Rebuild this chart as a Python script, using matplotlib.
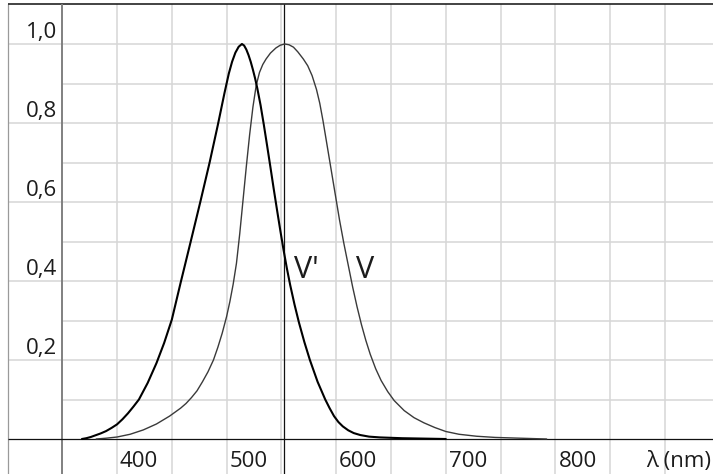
import matplotlib
matplotlib.use("Agg")
import matplotlib.pyplot as plt

# ---- data ----
# V' (scotopic, thick curve)
vs_wl = [368, 372, 376, 380, 385, 390, 395, 400, 405, 410, 415, 420, 428, 436,
         443, 450, 458, 467, 476, 484.5, 492, 498, 502, 505, 508, 511, 514,
         516, 518, 520, 522, 524, 526, 528, 531, 534, 537, 540, 543, 546, 549,
         552, 555, 558, 562, 566, 571, 576, 583, 590, 594, 598, 602, 606, 611,
         616, 622, 630, 640, 660, 680, 700]
vs_val = [0.0, 0.002, 0.005, 0.009, 0.014, 0.02, 0.028, 0.037, 0.05, 0.065,
          0.082, 0.10, 0.142, 0.192, 0.243, 0.302, 0.395, 0.497, 0.60, 0.70,
          0.795, 0.875, 0.925, 0.955, 0.978, 0.993, 1.0, 0.996, 0.986, 0.972,
          0.955, 0.935, 0.913, 0.888, 0.845, 0.795, 0.742, 0.688, 0.633, 0.58,
          0.528, 0.478, 0.432, 0.39, 0.34, 0.295, 0.245, 0.20, 0.145, 0.10,
          0.078, 0.058, 0.043, 0.032, 0.022, 0.015, 0.010, 0.006, 0.004, 0.002,
          0.001, 0.0]

# V (photopic, thin curve)
vp_wl = [381, 390, 400, 412, 424, 436, 448, 458, 463, 468, 473, 478, 483, 488,
         492, 496, 500, 503, 506, 509, 512, 515, 518, 521, 524, 527, 530, 533,
         536, 540, 545, 549, 553, 557, 561, 565, 570, 574, 578, 582, 585, 588,
         591, 594, 597, 600, 603, 607, 611, 615, 619, 623, 627, 631, 636, 641,
         647, 653, 662, 671, 680, 690, 700, 712, 728, 745, 768, 792]
vp_val = [0.0, 0.002, 0.005, 0.012, 0.023, 0.038, 0.058, 0.078, 0.09, 0.105,
          0.122, 0.145, 0.17, 0.20, 0.232, 0.268, 0.31, 0.348, 0.392, 0.445,
          0.52, 0.605, 0.69, 0.77, 0.84, 0.895, 0.928, 0.948, 0.962, 0.977,
          0.99, 0.997, 1.0, 0.998, 0.992, 0.98, 0.962, 0.945, 0.92, 0.885,
          0.85, 0.805, 0.755, 0.705, 0.655, 0.605, 0.555, 0.495, 0.44, 0.385,
          0.335, 0.29, 0.25, 0.215, 0.178, 0.148, 0.12, 0.097, 0.072, 0.054,
          0.041, 0.029, 0.019, 0.012, 0.007, 0.004, 0.002, 0.0]

y_major = [0.2, 0.4, 0.6, 0.8, 1.0]
y_major_labels = ["0,2", "0,4", "0,6", "0,8", "1,0"]
y_minor = [0.1, 0.3, 0.5, 0.7, 0.9]
x_grid = [400, 450, 500, 550, 600, 650, 700, 750, 800, 850, 900]
x_labels = [400, 500, 600, 700, 800]
marker_wl = 552

# ---- figure ----
W, H, DPI = 713, 474, 100
fig = plt.figure(figsize=(W / DPI, H / DPI), dpi=DPI)
ax = fig.add_axes([0, 0, 1, 1])
ax.axis("off")

px_per_nm = 1.096
x0_px = 62.2          # pixel of 350 nm
y0_px = 439.0         # pixel of value 0
px_per_unit = 395.0
ax.set_xlim(350 - x0_px / px_per_nm, 350 + (W - x0_px) / px_per_nm)
ax.set_ylim(-(H - y0_px) / px_per_unit, y0_px / px_per_unit)
xmin, xmax = ax.get_xlim()
ymin, ymax = ax.get_ylim()

frame_x = 300.5
top_y = 1.1
grid_c = "#d6d6d6"

# grid
ax.hlines(y_major, frame_x, xmax, color=grid_c, lw=1.1, zorder=1)
ax.hlines(y_minor, 350, xmax, color=grid_c, lw=1.1, zorder=1)
ax.vlines(x_grid, ymin, top_y, color=grid_c, lw=1.1, zorder=1)

# frame / axes
ax.vlines([frame_x], ymin, top_y, color="#9a9a9a", lw=0.9, zorder=2)
ax.hlines([top_y], frame_x, xmax, color="#222222", lw=1.2, zorder=2)
ax.vlines([350], ymin, top_y, color="#808080", lw=1.4, zorder=2)
ax.hlines([0], frame_x, xmax, color="#111111", lw=0.9, zorder=2)
ax.vlines([marker_wl], ymin, top_y, color="#111111", lw=0.9, zorder=2)

# curves
ax.plot(vp_wl, vp_val, color="#3a3a3a", lw=1.0, zorder=3,
        solid_joinstyle="round", solid_capstyle="round")
ax.plot(vs_wl, vs_val, color="#000000", lw=1.5, zorder=4,
        solid_joinstyle="round", solid_capstyle="round")

# labels
font = "Open Sans"
tc = "#1c1c1c"
for v, lab in zip(y_major, y_major_labels):
    ax.text(345.5, v + 6.2 / px_per_unit, lab, ha="right", va="baseline",
            fontsize=16, family=font, color=tc)
for xv in x_labels:
    ax.text(xv + 3 / px_per_nm, -28.3 / px_per_unit, str(xv), ha="left",
            va="baseline", fontsize=16, family=font, color=tc)
ax.text(883.0, -28.3 / px_per_unit, "λ (nm)", ha="left", va="baseline",
        fontsize=16, family=font, color=tc)

ax.text(561.5, (y0_px - 278) / px_per_unit, "V'", ha="left", va="baseline",
        fontsize=22, family=font, color=tc)
ax.text(618.5, (y0_px - 278) / px_per_unit, "V", ha="left", va="baseline",
        fontsize=22, family=font, color=tc)

fig.savefig("out.png", dpi=DPI)
